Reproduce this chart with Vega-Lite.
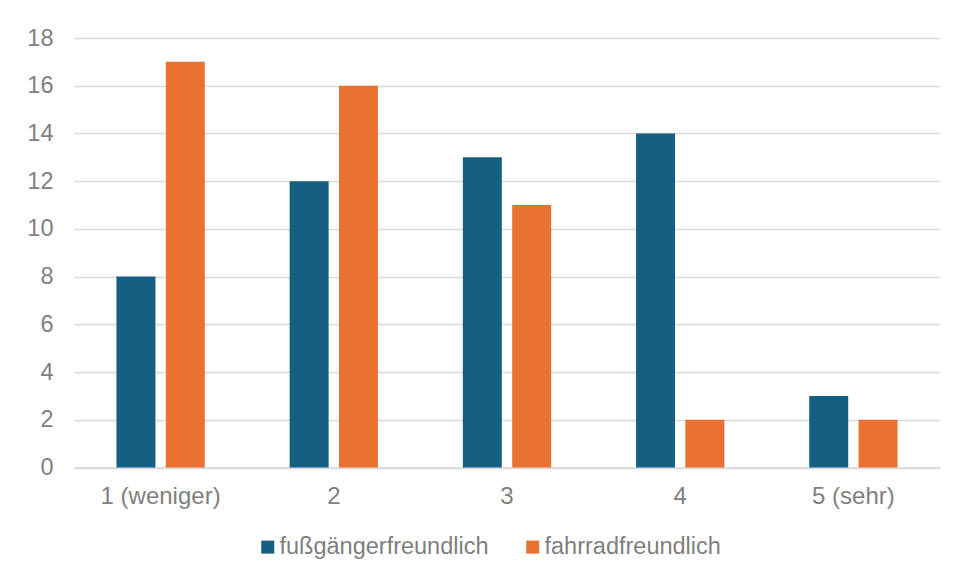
{
  "$schema": "https://vega.github.io/schema/vega-lite/v6.json",
  "autosize": {"type": "none"},
  "padding": {"left": 74, "top": 38, "right": 16, "bottom": 111},
  "width": 866,
  "height": 429.5,
  "background": "white",
  "config": {
    "font": "Liberation Sans",
    "view": {"stroke": null}
  },
  "data": {
    "values": [
      {"kategorie": "1 (weniger)", "serie": "fußgängerfreundlich", "wert": 8},
      {"kategorie": "1 (weniger)", "serie": "fahrradfreundlich", "wert": 17},
      {"kategorie": "2", "serie": "fußgängerfreundlich", "wert": 12},
      {"kategorie": "2", "serie": "fahrradfreundlich", "wert": 16},
      {"kategorie": "3", "serie": "fußgängerfreundlich", "wert": 13},
      {"kategorie": "3", "serie": "fahrradfreundlich", "wert": 11},
      {"kategorie": "4", "serie": "fußgängerfreundlich", "wert": 14},
      {"kategorie": "4", "serie": "fahrradfreundlich", "wert": 2},
      {"kategorie": "5 (sehr)", "serie": "fußgängerfreundlich", "wert": 3},
      {"kategorie": "5 (sehr)", "serie": "fahrradfreundlich", "wert": 2}
    ]
  },
  "mark": {"type": "bar"},
  "encoding": {
    "x": {
      "field": "kategorie",
      "type": "nominal",
      "sort": null,
      "scale": {"paddingInner": 0.49, "paddingOuter": 0.245},
      "axis": {
        "title": null,
        "labelAngle": 0,
        "labelFontSize": 24,
        "labelColor": "#7f7f7f",
        "labelPadding": 17,
        "labelLimit": 0,
        "ticks": false,
        "domainColor": "#d9d9d9",
        "domainWidth": 1.5
      }
    },
    "xOffset": {
      "field": "serie",
      "type": "nominal",
      "sort": ["fußgängerfreundlich", "fahrradfreundlich"],
      "scale": {"paddingInner": 0.21, "paddingOuter": 0}
    },
    "y": {
      "field": "wert",
      "type": "quantitative",
      "scale": {"domain": [0, 18], "nice": false},
      "axis": {
        "title": null,
        "values": [0, 2, 4, 6, 8, 10, 12, 14, 16, 18],
        "labelFontSize": 23.5,
        "labelColor": "#7f7f7f",
        "labelPadding": 21,
        "ticks": false,
        "domain": false,
        "gridColor": "#d9d9d9",
        "gridWidth": 1.5
      }
    },
    "color": {
      "field": "serie",
      "type": "nominal",
      "sort": ["fußgängerfreundlich", "fahrradfreundlich"],
      "scale": {"range": ["#156082", "#E97132"]},
      "legend": {
        "title": null,
        "orient": "none",
        "direction": "horizontal",
        "legendX": 182,
        "legendY": 497,
        "padding": 0,
        "symbolType": "square",
        "symbolSize": 169,
        "symbolStrokeWidth": 0,
        "labelFontSize": 23.5,
        "labelColor": "#7f7f7f",
        "labelOffset": 0,
        "labelLimit": 0,
        "columnPadding": 32
      }
    }
  }
}
